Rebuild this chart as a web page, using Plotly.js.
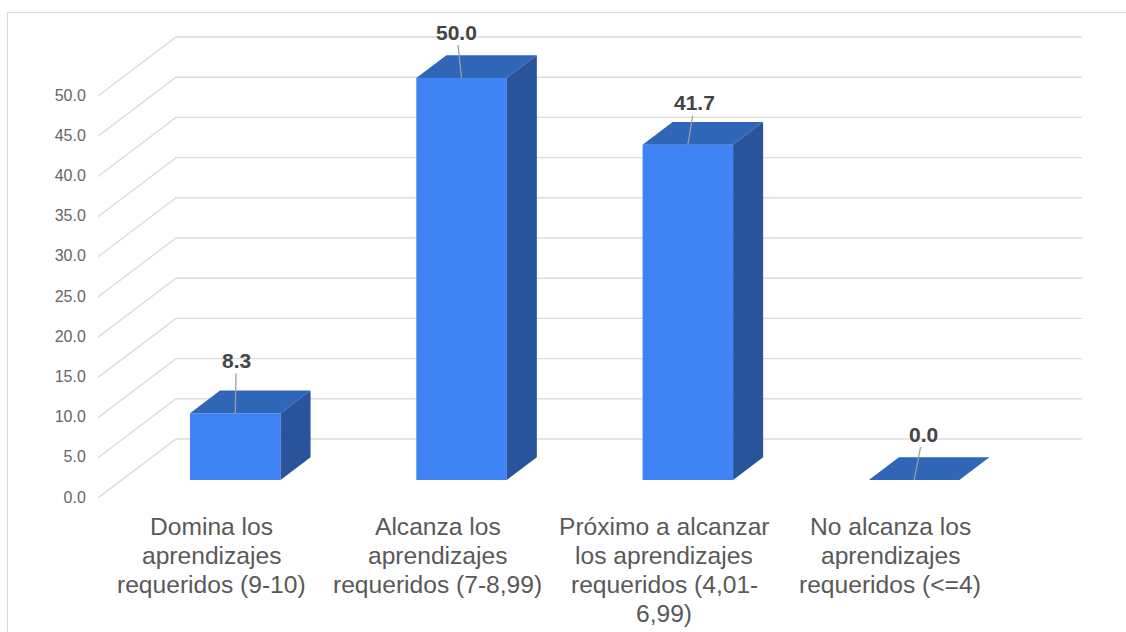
<!DOCTYPE html>
<html>
<head>
<meta charset="utf-8">
<script src="https://cdn.plot.ly/plotly-3.0.1.min.js"></script>
<style>
  html, body { margin: 0; padding: 0; background: #fff; overflow: hidden; width: 1126px; height: 632px; }
  #frame { position: absolute; left: 7px; top: 12px; width: 1140px; height: 640px; border: 1.5px solid #d9d9d9; }
  #chart { position: absolute; left: 0; top: 0; width: 1126px; height: 632px; }
</style>
</head>
<body>
<div id="frame"></div>
<div id="chart"></div>
<script>
// Logro de aprendizajes: porcentaje por nivel
const categoryLines = [
  ["Domina los", "aprendizajes", "requeridos (9-10)"],
  ["Alcanza los", "aprendizajes", "requeridos (7-8,99)"],
  ["Próximo a alcanzar", "los aprendizajes", "requeridos (4,01-", "6,99)"],
  ["No alcanza los", "aprendizajes", "requeridos (<=4)"]
];
const values = [8.3, 50.0, 41.7, 0.0];
const yTicks = [0, 5, 10, 15, 20, 25, 30, 35, 40, 45, 50];

// Pseudo-3D projection, in axis units: how far the floor recedes and where the bars sit in it
const wallDx = 0.3447, wallDy = 7.34;
const barNear = 0.305, barFar = 0.69;
const barHalf = 0.2;

// Leader line offsets from each bar's front edge to its value label, in pixels
const labelAx = [1, -5, 7, 9];
const labelAy = [-53, -46, -42, -46];

const positions = values.map((_, i) => i);
const barCentre = positions.map(p => p + barNear * wallDx);

// Top and right faces, as polygons separated by nulls
const topX = [], topY = [], sideX = [], sideY = [];
const nearY = barNear * wallDy, farY = barFar * wallDy;
const shiftX = (barFar - barNear) * wallDx;
values.forEach((v, i) => {
  const l = barCentre[i] - barHalf, r = barCentre[i] + barHalf;
  topX.push(l, r, r + shiftX, l + shiftX, l, null);
  topY.push(v + nearY, v + nearY, v + farY, v + farY, v + nearY, null);
  sideX.push(r, r + shiftX, r + shiftX, r, r, null);
  sideY.push(nearY, farY, v + farY, v + nearY, nearY, null);
});

const xLeft = -0.5015, xRight = 3.847;

// Receding floor-to-wall gridlines at every y tick
const gridShapes = yTicks.map(t => ({
  type: "path", layer: "below", xref: "x", yref: "y",
  path: `M ${xLeft} ${t} L ${xLeft + wallDx} ${t + wallDy} L ${xRight} ${t + wallDy}`,
  line: { color: "#dcdcdc", width: 1.4 }
}));

const valueLabels = values.map((v, i) => ({
  x: barCentre[i], y: v + nearY, xref: "x", yref: "y",
  text: v.toFixed(1), showarrow: true, arrowhead: 0, arrowwidth: 1.3, arrowcolor: "#9e9e9e",
  ax: labelAx[i], ay: labelAy[i], standoff: 0,
  font: { family: "Liberation Sans, Arial, sans-serif", size: 21, color: "#444444", weight: 700 }
}));

// Category labels are laid out line by line for a tighter leading
const categoryLabels = [];
categoryLines.forEach((lines, i) => {
  lines.forEach((line, k) => {
    categoryLabels.push({
      x: i, y: 0, xref: "x", yref: "paper", yanchor: "middle", showarrow: false,
      yshift: -(28 + 29 * k), text: line.replace("<", "&lt;"),
      font: { family: "Liberation Sans, Arial, sans-serif", size: 24.6, color: "#595959" }
    });
  });
});

const traces = [
  {
    type: "bar", x: positions, y: values, base: values.map(() => nearY),
    width: barHalf * 2, offset: barNear * wallDx - barHalf,
    marker: { color: "#4083f5", line: { width: 0 } }, hoverinfo: "skip"
  },
  { type: "scatter", mode: "lines", x: topX, y: topY, fill: "toself", fillcolor: "#3066b8",
    line: { width: 0, color: "#3066b8" }, hoverinfo: "skip" },
  { type: "scatter", mode: "lines", x: sideX, y: sideY, fill: "toself", fillcolor: "#29549c",
    line: { width: 0, color: "#29549c" }, hoverinfo: "skip" }
];

const layout = {
  width: 1126, height: 632,
  margin: { l: 98, r: 44, t: 14, b: 134, pad: 0 },
  paper_bgcolor: "rgba(0,0,0,0)", plot_bgcolor: "rgba(0,0,0,0)",
  showlegend: false,
  xaxis: { range: [xLeft, xRight], showgrid: false, zeroline: false, showline: false,
           showticklabels: false, ticks: "" },
  yaxis: { range: [0, 60.2], showgrid: false, zeroline: false, showline: false,
           tickmode: "array", tickvals: yTicks, ticktext: yTicks.map(t => t.toFixed(1)),
           ticks: "outside", ticklen: 8, tickcolor: "rgba(0,0,0,0)", ticklabelshift: -1,
           tickfont: { family: "Liberation Sans, Arial, sans-serif", size: 16, color: "#666666" } },
  shapes: gridShapes,
  annotations: valueLabels.concat(categoryLabels)
};

Plotly.newPlot("chart", traces, layout, { staticPlot: true, displayModeBar: false });
</script>
</body>
</html>
